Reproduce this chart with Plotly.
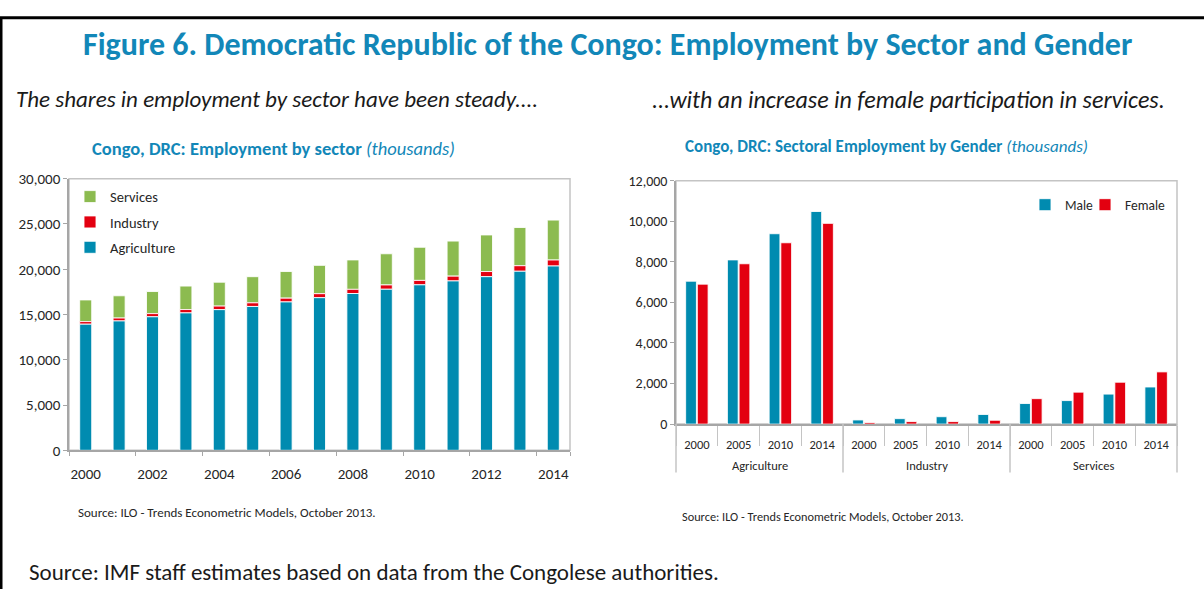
import plotly.graph_objects as go

# ---- Employment by sector (thousands), 2000-2014 ----
years = [str(y) for y in range(2000, 2015)]
agriculture = [13930, 14290, 14750, 15180, 15540, 15890, 16390, 16860,
               17320, 17790, 18280, 18710, 19180, 19780, 20360]
industry = [290, 320, 350, 370, 390, 400, 420, 440,
            460, 475, 490, 530, 570, 610, 660]
services = [2390, 2460, 2440, 2590, 2640, 2890, 2940, 3130,
            3250, 3445, 3660, 3870, 4040, 4220, 4410]

# ---- Sectoral employment by gender (thousands) ----
sectors = ["Agriculture", "Industry", "Services"]
gender_years = ["2000", "2005", "2010", "2014"]
male = {"Agriculture": [7045, 8095, 9385, 10480],
        "Industry": [205, 270, 365, 475],
        "Services": [1015, 1160, 1480, 1830]}
female = {"Agriculture": [6900, 7905, 8940, 9895],
          "Industry": [77, 125, 125, 190],
          "Services": [1255, 1575, 2065, 2575]}

BLUE = "#008bb0"
RED = "#e30010"
GREEN = "#8cbb50"
TITLE_BLUE = "#1287b8"
FRAME = "#c4c4c4"
AXIS = "#a6a6a6"
FONT = "Carlito, Lato, 'Open Sans', sans-serif"

W, H = 1204, 598


def px_x(x):
    return x / W


def px_y(y):
    return 1 - y / H


fig = go.Figure()

# stacked bars built from cumulative bases (top segment listed first so the
# legend reads Services / Industry / Agriculture)
base_ind = list(agriculture)
base_srv = [a + i for a, i in zip(agriculture, industry)]
edge = dict(color="rgba(255,255,255,0.85)", width=1)
for name, vals, base, color in [("Services", services, base_srv, GREEN),
                                ("Industry", industry, base_ind, RED),
                                ("Agriculture", agriculture, None, BLUE)]:
    fig.add_trace(go.Bar(x=years, y=vals, base=base, name=name,
                         marker=dict(color=color, line=edge), width=0.36,
                         offsetgroup="s", legendgroup=name, legend="legend",
                         xaxis="x", yaxis="y"))

# grouped bars: one category per sector/year pair, labelled by year
cat_keys = [f"{s} {y}" for s in sectors for y in gender_years]
cat_years = [y for _ in sectors for y in gender_years]
male_vals = [v for s in sectors for v in male[s]]
female_vals = [v for s in sectors for v in female[s]]
fig.add_trace(go.Bar(x=cat_keys, y=male_vals, name="Male",
                     marker=dict(color=BLUE, line=edge), offsetgroup="m",
                     legend="legend2", xaxis="x2", yaxis="y2"))
fig.add_trace(go.Bar(x=cat_keys, y=female_vals, name="Female",
                     marker=dict(color=RED, line=edge), offsetgroup="f",
                     legend="legend3", xaxis="x2", yaxis="y2"))

tick_font = dict(family=FONT, size=15, color="#262626")
y2_font = dict(family=FONT, size=14, color="#262626")
x2_font = dict(family=FONT, size=12.5, color="#262626")
gender_legend = dict(y=px_y(186), xanchor="left", yanchor="top",
                     font=dict(family=FONT, size=13.5, color="#262626"),
                     bgcolor="rgba(0,0,0,0)", itemwidth=30)

fig.update_layout(
    width=W, height=H,
    margin=dict(l=0, r=0, t=0, b=0),
    paper_bgcolor="white", plot_bgcolor="white",
    barmode="group", bargap=0.44, bargroupgap=0.08,
    font=dict(family=FONT, color="#262626"),
    xaxis=dict(domain=[px_x(69), px_x(570)], anchor="y", type="category",
               tickvals=years[::2], tickfont=tick_font, tickangle=0,
               showline=True, linecolor=AXIS, linewidth=1.5,
               ticks="outside", ticklen=4, tickcolor=AXIS,
               tickson="boundaries", showgrid=False, ticklabelstandoff=9),
    yaxis=dict(domain=[px_y(455), px_y(175)], anchor="x",
               range=[0, 30000], dtick=5000, tickformat=",",
               tickfont=tick_font, showline=True, linecolor=AXIS,
               linewidth=1.5, ticks="outside", ticklen=4, tickcolor=AXIS,
               showgrid=False, zeroline=False),
    xaxis2=dict(domain=[px_x(676), px_x(1177)], anchor="y2", type="category",
                tickvals=cat_keys, ticktext=cat_years,
                tickfont=x2_font, tickangle=0, showline=True,
                linecolor=AXIS, linewidth=1.5, ticks="outside", ticklen=20,
                tickcolor=FRAME, tickson="boundaries", showgrid=False,
                ticklabelstandoff=8),
    yaxis2=dict(domain=[px_y(428), px_y(177)], anchor="x2",
                range=[0, 12000], dtick=2000, tickformat=",",
                tickfont=y2_font, showline=True, linecolor=AXIS,
                linewidth=1.5, ticks="outside", ticklen=4, tickcolor=AXIS,
                showgrid=False, zeroline=False),
    legend=dict(x=px_x(70), y=px_y(177), xanchor="left", yanchor="top",
                traceorder="grouped", tracegroupgap=3.5,
                font=dict(family=FONT, size=14.5, color="#262626"),
                bgcolor="rgba(0,0,0,0)", itemwidth=30),
    legend2=dict(x=px_x(1025), **gender_legend),
    legend3=dict(x=px_x(1085), **gender_legend),
)

# plot-area frames
for x0, x1, y0, y1 in [(69, 570, 175, 455), (676, 1177, 177, 428)]:
    fig.add_shape(type="rect", xref="paper", yref="paper",
                  x0=px_x(x0), x1=px_x(x1), y0=px_y(y1), y1=px_y(y0),
                  line=dict(color=FRAME, width=1.5), layer="below")

# sector dividers and sector names beneath the year labels
n_sec = len(sectors)
for k in range(n_sec + 1):
    fig.add_shape(type="line", xref="x2 domain", yref="paper",
                  x0=k / n_sec, x1=k / n_sec, y0=px_y(478), y1=px_y(428),
                  line=dict(color=FRAME, width=1.5))
for k, s in enumerate(sectors):
    fig.add_annotation(text=s, xref="x2 domain", yref="paper",
                       x=(k + 0.5) / n_sec, y=px_y(471), showarrow=False,
                       xanchor="center", yanchor="middle", font=x2_font)

# figure border (top and left rules)
fig.add_shape(type="line", xref="paper", yref="paper", x0=0, x1=1,
              y0=px_y(9), y1=px_y(9), line=dict(color="black", width=3))
fig.add_shape(type="line", xref="paper", yref="paper", x0=px_x(1),
              x1=px_x(1), y0=0, y1=px_y(9), line=dict(color="black", width=3))

texts = [
    ("<b>Figure 6. Democratic Republic of the Congo: Employment by Sector and Gender</b>",
     607, 37, 32, TITLE_BLUE, "center"),
    ("<i>The shares in employment by sector have been steady....</i>",
     14, 93, 23, "#1a1a1a", "left"),
    ("<i>...with an increase in female participation in services.</i>",
     650, 93, 24, "#1a1a1a", "left"),
    ("<b>Congo, DRC: Employment by sector</b> <i>(thousands)</i>",
     273, 144, 18.5, TITLE_BLUE, "center"),
    ("<b>Congo, DRC: Sectoral Employment by Gender</b> <i>(thousands)</i>",
     886, 142, 17, TITLE_BLUE, "center"),
    ("Source: ILO - Trends Econometric Models, October 2013.",
     76, 519, 13, "#262626", "left"),
    ("Source: ILO - Trends Econometric Models, October 2013.",
     680, 523, 12.3, "#262626", "left"),
    ("Source: IMF staff estimates based on data from the Congolese authorities.",
     27, 580, 23, "#1a1a1a", "left"),
]
for t, x, y, size, color, anchor in texts:
    fig.add_annotation(text=t, xref="paper", yref="paper", x=px_x(x), y=px_y(y),
                       xanchor=anchor, yanchor="middle", showarrow=False,
                       font=dict(family=FONT, size=size, color=color))

fig.write_html("out.html")
